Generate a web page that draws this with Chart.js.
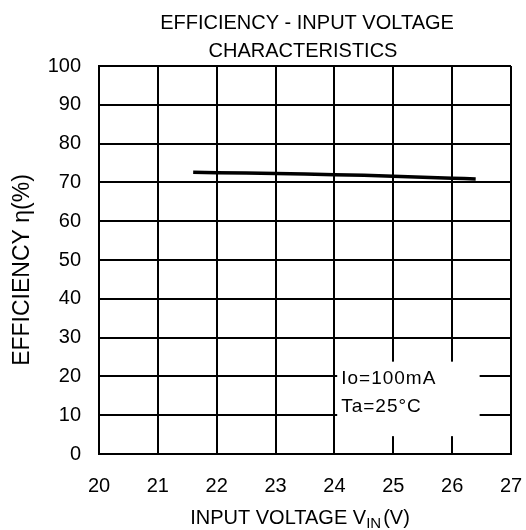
<!DOCTYPE html>
<html>
<head>
<meta charset="utf-8">
<script src="https://cdn.jsdelivr.net/npm/chart.js@4"></script>
<style>
  body { margin: 0; background: #fff; }
  #wrap { width: 526px; height: 530px; }
</style>
</head>
<body>
<div id="wrap"><canvas id="effChart" width="526" height="530"></canvas></div>
<script>
  // values
  const vin = [21.6, 22, 23, 24, 25, 26, 26.4];
  const efficiency = [72.6, 72.5, 72.3, 72.0, 71.6, 71.1, 70.9];
  const titleLines = ["EFFICIENCY - INPUT VOLTAGE", "CHARACTERISTICS"];
  const noteLines = ["Io=100mA", "Ta=25\u00B0C"];
  const yTitle = "EFFICIENCY \u03B7(%)";

  const FONT = "'Liberation Sans', Arial, sans-serif";

  // titles (x title has a subscript) and the white note box
  const extras = {
    id: "extras",
    afterDatasetsDraw(chart) {
      const { ctx, scales } = chart;
      const x = scales.x, y = scales.y;
      ctx.save();
      // note box
      const bx1 = x.getPixelForValue(24.03), bx2 = x.getPixelForValue(26.45);
      const by1 = y.getPixelForValue(23.8), by2 = y.getPixelForValue(4.6);
      ctx.fillStyle = "#fff";
      ctx.fillRect(bx1 + 1, by1, bx2 - bx1, by2 - by1);
      ctx.fillStyle = "#000";
      ctx.font = "19px " + FONT;
      ctx.letterSpacing = "1px";
      ctx.textBaseline = "middle";
      ctx.textAlign = "left";
      ctx.fillText(noteLines[0], bx1 + 5, y.getPixelForValue(19.3));
      ctx.fillText(noteLines[1], bx1 + 5, y.getPixelForValue(12.3));
      ctx.letterSpacing = "0px";
      // chart title
      ctx.font = "20px " + FONT;
      ctx.textAlign = "center";
      ctx.fillText(titleLines[0], 307, 23);
      ctx.fillText(titleLines[1], 303, 51);
      // y title
      ctx.save();
      ctx.translate(23, 270);
      ctx.rotate(-Math.PI / 2);
      ctx.font = "23px " + FONT;
      ctx.fillText(yTitle, 0, 0);
      ctx.restore();
      // x-axis title: INPUT VOLTAGE V_IN(V)
      const ty = 518;
      const p1 = "INPUT VOLTAGE V", sub = "IN", p2 = "(V)";
      ctx.font = "20px " + FONT;
      const w1 = ctx.measureText(p1).width, w3 = ctx.measureText(p2).width;
      ctx.font = "15px " + FONT;
      const w2 = ctx.measureText(sub).width;
      const sx = 299 - (w1 + w2 + w3) / 2;
      ctx.textAlign = "left";
      ctx.font = "20px " + FONT;
      ctx.fillText(p1, sx, ty);
      ctx.font = "15px " + FONT;
      ctx.fillText(sub, sx + w1, ty + 6);
      ctx.font = "20px " + FONT;
      ctx.fillText(p2, sx + w1 + w2 + 2, ty);
      ctx.restore();
    }
  };

  new Chart(document.getElementById("effChart"), {
    type: "scatter",
    data: {
      datasets: [{
        data: vin.map((v, i) => ({ x: v, y: efficiency[i] })),
        showLine: true,
        borderColor: "#000",
        borderWidth: 3.5,
        pointRadius: 0,
        tension: 0.3,
        fill: false,
      }],
    },
    options: {
      responsive: false,
      animation: false,
      devicePixelRatio: 1,
      layout: { padding: { top: 66, left: 0, right: 15, bottom: 0 } },
      plugins: { legend: { display: false }, tooltip: { enabled: false } },
      scales: {
        x: {
          type: "linear",
          min: 20,
          max: 27,
          ticks: { stepSize: 1, color: "#000", padding: 20, font: { family: FONT, size: 20 } },
          grid: { color: "#000", lineWidth: 2, drawTicks: false },
          border: { color: "#000", width: 2 },
          afterFit(scale) {
            scale.height = 76;
            scale.paddingLeft = 0;
            scale.paddingRight = 0;
          },
        },
        y: {
          min: 0,
          max: 100,
          ticks: { stepSize: 10, color: "#000", padding: 18, font: { family: FONT, size: 20 } },
          grid: { color: "#000", lineWidth: 2, drawTicks: false },
          border: { color: "#000", width: 2 },
          afterFit(scale) {
            scale.width = 99;
            scale.paddingTop = 0;
            scale.paddingBottom = 0;
          },
        },
      },
    },
    plugins: [extras],
  });
</script>
</body>
</html>
